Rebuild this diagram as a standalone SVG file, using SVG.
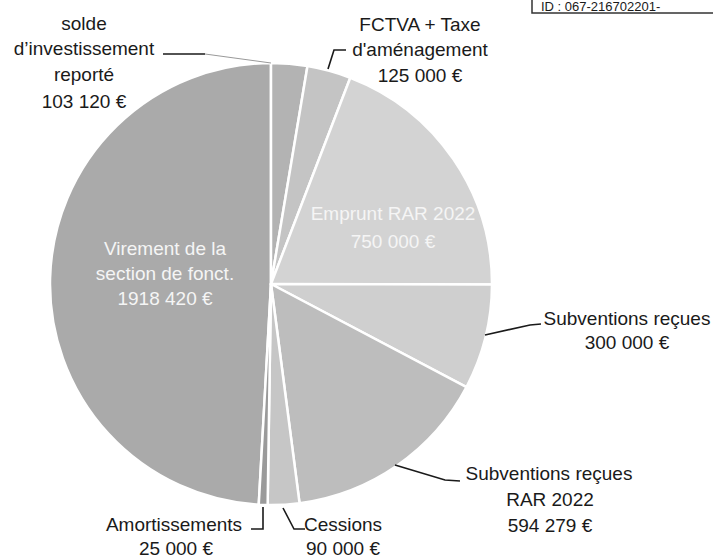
<svg xmlns="http://www.w3.org/2000/svg" width="713" height="560" viewBox="0 0 713 560">
<style>
.sl{stroke:#ffffff;stroke-width:2.5;stroke-linejoin:round}
.lbl{font-family:"Liberation Sans",Arial,sans-serif;font-size:19px;fill:#1a1a1a;text-anchor:middle}
.in{font-family:"Liberation Sans",Arial,sans-serif;font-size:19px;fill:#f5f5f5;text-anchor:middle}
.ld{fill:none;stroke:#1a1a1a;stroke-width:1.6}
</style>
<rect width="713" height="560" fill="#ffffff"/>
<g id="stamp">
<rect x="532" y="-20" width="200" height="33" fill="#ffffff" stroke="#333333" stroke-width="1.5"/>
<text x="541" y="10.5" font-family="'Liberation Sans',Arial,sans-serif" font-size="13" fill="#1a1a1a">ID : 067-216702201-</text>
</g>
<g id="virement">
<path class="sl" fill="#aaaaaa" d="M271,284 L258.74,504.66 A221,221 0 0 1 271,63 Z"/>
<text class="in" x="165" y="255">Virement de la</text>
<text class="in" x="165" y="280">section de fonct.</text>
<text class="in" x="165" y="305">1918 420 €</text>
</g>
<g id="solde">
<path class="sl" fill="#b3b3b3" d="M271,284 L271,63 A221,221 0 0 1 307.49,66.03 Z"/>
<text class="lbl" x="84" y="30">solde</text>
<text class="lbl" x="84" y="55">d’investissement</text>
<text class="lbl" x="84" y="81">reporté</text>
<text class="lbl" x="84" y="108">103 120 €</text>
</g>
<g id="fctva">
<path class="sl" fill="#c4c4c4" d="M271,284 L307.49,66.03 A221,221 0 0 1 350.29,77.71 Z"/>
<text class="lbl" x="420" y="31">FCTVA + Taxe</text>
<text class="lbl" x="420" y="56">d'aménagement</text>
<text class="lbl" x="420" y="82">125 000 €</text>
</g>
<g id="emprunt">
<path class="sl" fill="#d3d3d3" d="M271,284 L350.29,77.71 A221,221 0 0 1 492,284.59 Z"/>
<text class="in" x="393" y="220">Emprunt RAR 2022</text>
<text class="in" x="393" y="248">750 000 €</text>
</g>
<g id="subventions">
<path class="sl" fill="#cfcfcf" d="M271,284 L492,284.59 A221,221 0 0 1 466.49,387.09 Z"/>
<text class="lbl" x="627" y="325">Subventions reçues</text>
<text class="lbl" x="627" y="349">300 000 €</text>
</g>
<g id="subventions-rar">
<path class="sl" fill="#bdbdbd" d="M271,284 L466.49,387.09 A221,221 0 0 1 299.54,503.15 Z"/>
<text class="lbl" x="549" y="480">Subventions reçues</text>
<text class="lbl" x="550" y="506">RAR 2022</text>
<text class="lbl" x="550" y="532">594 279 €</text>
</g>
<g id="cessions">
<path class="sl" fill="#c6c6c6" d="M271,284 L299.54,503.15 A221,221 0 0 1 267.63,504.97 Z"/>
<text class="lbl" x="343" y="531">Cessions</text>
<text class="lbl" x="343" y="555">90 000 €</text>
</g>
<g id="amortissements">
<path class="sl" fill="#9a9a9a" d="M271,284 L267.63,504.97 A221,221 0 0 1 258.74,504.66 Z"/>
<text class="lbl" x="174" y="531">Amortissements</text>
<text class="lbl" x="176" y="555">25 000 €</text>
</g>
<g id="connectors">
<polyline class="ld" points="163,54 205,54"/>
<line x1="205" y1="54" x2="271" y2="63" stroke="#999999" stroke-width="1"/>
<polyline class="ld" points="328,69 334,50 346,50"/>
<polyline class="ld" points="485,335 530,325 541,324"/>
<polyline class="ld" points="395,465 445,480 460,481"/>
<polyline class="ld" points="263,507 263,529 251,529"/>
<polyline class="ld" points="283,508 294,529 305,529"/>
</g>
</svg>
